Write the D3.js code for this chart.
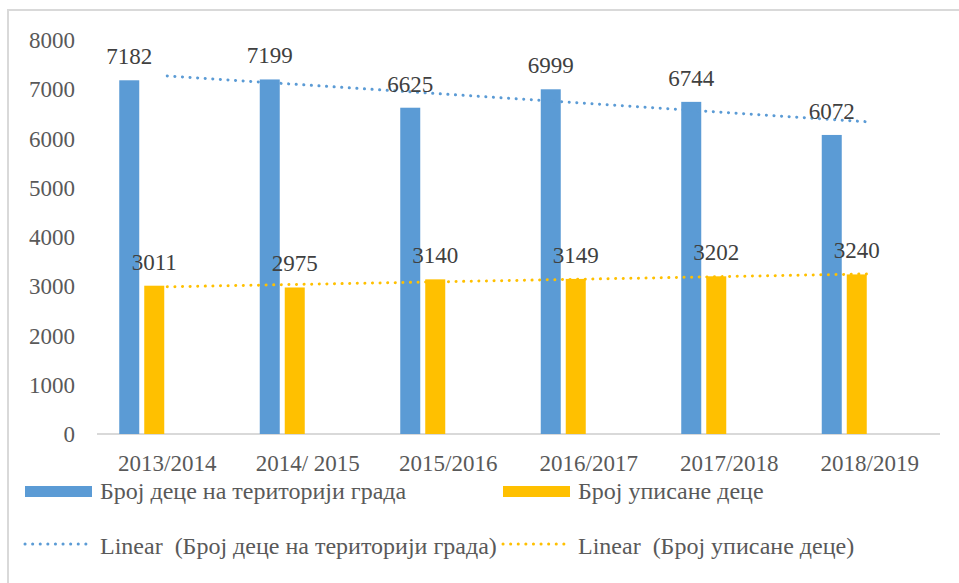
<!DOCTYPE html>
<html>
<head>
<meta charset="utf-8">
<script src="https://cdn.jsdelivr.net/npm/d3@7"></script>
<style>
  body { margin: 0; background: #fff; }
</style>
</head>
<body>
<div id="chart"></div>
<script>
// data
const years = ["2013/2014", "2014/ 2015", "2015/2016", "2016/2017", "2017/2018", "2018/2019"];
const childrenCity = [7182, 7199, 6625, 6999, 6744, 6072];
const childrenEnrolled = [3011, 2975, 3140, 3149, 3202, 3240];
const yTicks = [0, 1000, 2000, 3000, 4000, 5000, 6000, 7000, 8000];
const seriesNames = ["Број деце на територији града", "Број уписане деце"];
const colors = ["#5B9BD5", "#FFC000"];

const FONT = "'Liberation Serif', 'DejaVu Serif', serif";
const W = 959, H = 583;
const margin = { top: 40, right: 19, bottom: 149, left: 97 },
    width = W - margin.left - margin.right,
    height = H - margin.top - margin.bottom;

const svg = d3.select("#chart")
    .append("svg")
    .attr("width", W)
    .attr("height", H)
    .attr("font-family", FONT);

// chart frame (only top and left edges visible)
svg.append("rect")
    .attr("x", 8).attr("y", 10)
    .attr("width", W + 20).attr("height", H + 20)
    .attr("fill", "none")
    .attr("stroke", "#d9d9d9")
    .attr("stroke-width", 2);

const g = svg.append("g")
    .attr("transform", `translate(${margin.left},${margin.top})`);

const x = d3.scaleBand().domain(years).range([0, width]);
// four slots per category (two are empty), as in the source chart
const xs = d3.scaleBand().domain([0, 1, 2, 3]).range([x.bandwidth() / 2 - 48, x.bandwidth() / 2 + 47]).paddingInner(0.2);
const y = d3.scaleLinear().domain([0, 8000]).range([height, 0]);

// y axis labels
g.append("g")
    .selectAll("text")
    .data(yTicks)
    .join("text")
    .attr("x", -22)
    .attr("y", d => y(d))
    .attr("dy", "0.35em")
    .attr("text-anchor", "end")
    .attr("fill", "#595959")
    .style("font-size", "23px")
    .text(d => d);

// baseline
g.append("line")
    .attr("x1", 0).attr("x2", width)
    .attr("y1", height).attr("y2", height)
    .attr("stroke", "#d9d9d9")
    .attr("stroke-width", 2);

// category labels
g.append("g")
    .selectAll("text")
    .data(years)
    .join("text")
    .attr("x", d => x(d) + x.bandwidth() / 2)
    .attr("y", height + 37)
    .attr("text-anchor", "middle")
    .attr("fill", "#595959")
    .style("font-size", "23px")
    .text(d => d);

const allSeries = [childrenCity, childrenEnrolled];

allSeries.forEach((vals, s) => {
    g.append("g")
        .selectAll("rect")
        .data(vals)
        .join("rect")
        .attr("x", (d, i) => x(years[i]) + xs(s))
        .attr("y", d => y(d))
        .attr("width", xs.bandwidth())
        .attr("height", d => height - y(d))
        .attr("fill", colors[s]);
});

// linear trendlines (least squares over category index)
function linFit(vals) {
    const n = vals.length;
    const mx = d3.mean(vals, (d, i) => i);
    const my = d3.mean(vals);
    const sxy = d3.sum(vals, (d, i) => (i - mx) * (d - my));
    const sxx = d3.sum(vals, (d, i) => (i - mx) * (i - mx));
    const b = sxy / sxx, a = my - b * mx;
    return [0, n - 1].map(i => [i, a + b * i]);
}

allSeries.forEach((vals, s) => {
    const pts = linFit(vals);
    g.append("line")
        .attr("x1", x(years[pts[0][0]]) + x.bandwidth() / 2)
        .attr("y1", y(pts[0][1]))
        .attr("x2", x(years[pts[1][0]]) + x.bandwidth() / 2)
        .attr("y2", y(pts[1][1]))
        .attr("stroke", colors[s])
        .attr("stroke-width", 3)
        .attr("stroke-linecap", "round")
        .attr("stroke-dasharray", "0.1 7.5");
});

// data labels
allSeries.forEach((vals, s) => {
    g.append("g")
        .selectAll("text")
        .data(vals)
        .join("text")
        .attr("x", (d, i) => x(years[i]) + xs(s) + xs.bandwidth() / 2)
        .attr("y", d => y(d) - 16)
        .attr("text-anchor", "middle")
        .attr("fill", "#404040")
        .style("font-size", "23px")
        .text(d => d);
});

// legend
const legX = [25, 503];
seriesNames.forEach((name, s) => {
    svg.append("rect")
        .attr("x", legX[s]).attr("y", 486)
        .attr("width", 67).attr("height", 11)
        .attr("fill", colors[s]);
    svg.append("text")
        .attr("x", legX[s] + 75).attr("y", 499)
        .attr("fill", "#595959")
        .style("font-size", "24px")
        .text(name);

    svg.append("line")
        .attr("x1", legX[s]).attr("x2", legX[s] + 66)
        .attr("y1", 544).attr("y2", 544)
        .attr("stroke", colors[s])
        .attr("stroke-width", 3)
        .attr("stroke-linecap", "round")
        .attr("stroke-dasharray", "0.1 7.5");
    svg.append("text")
        .attr("x", legX[s] + 75).attr("y", 554)
        .attr("fill", "#595959")
        .style("font-size", "24px")
        .style("white-space", "pre")
        .text("Linear  (" + name + ")");
});
</script>
</body>
</html>
